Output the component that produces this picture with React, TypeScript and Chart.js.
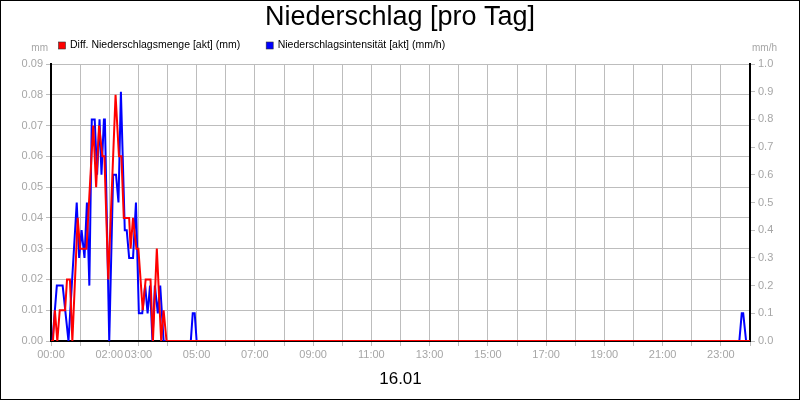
import { useEffect, useRef } from 'react';
import { Chart, registerables } from 'chart.js';
import type { Plugin } from 'chart.js';

Chart.register(...registerables);

const FONT = "'Liberation Sans', Arial, Helvetica, sans-serif";

const titleText = 'Niederschlag [pro Tag]';
const dayLabel = '16.01';
const leftUnit = 'mm';
const rightUnit = 'mm/h';
const amountLabel = 'Diff. Niederschlagsmenge [akt] (mm)';
const intensityLabel = 'Niederschlagsintensität [akt] (mm/h)';

// hours that get a label on the time axis
const xTickHours = [0, 2, 3, 5, 7, 9, 11, 13, 15, 17, 19, 21, 23];

// minutes after midnight / mm
const amountTimes = [0, 4, 8, 13, 18, 29, 33, 39, 44, 55, 60, 73, 87, 93, 99, 106, 110, 118, 133, 140, 145, 150, 161, 164, 169, 176, 180, 189, 195, 205, 210, 218, 227, 232, 238, 1440];
const amountValues = [0, 0, 0.01, 0, 0.01, 0.01, 0.02, 0.02, 0, 0.04, 0.03, 0.03, 0.07, 0.05, 0.07, 0.06, 0.06, 0.02, 0.08, 0.06, 0.06, 0.04, 0.04, 0.03, 0.04, 0.03, 0.03, 0.01, 0.02, 0.02, 0, 0.03, 0, 0.01, 0, 0];

// minutes after midnight / mm/h
const intensityTimes = [0, 3, 12, 24, 36, 53, 58, 63, 69, 74, 79, 84, 90, 95, 100, 104, 109, 111, 120, 128, 134, 139, 144, 152, 156, 161, 169, 175, 181, 188, 194, 199, 204, 209, 214, 220, 225, 232, 288, 292, 296, 300, 1418, 1423, 1426, 1432, 1440];
const intensityValues = [0, 0, 0.2, 0.2, 0, 0.5, 0.3, 0.4, 0.3, 0.5, 0.2, 0.8, 0.8, 0.6, 0.8, 0.6, 0.8, 0.8, 0, 0.6, 0.6, 0.5, 0.9, 0.4, 0.4, 0.3, 0.3, 0.5, 0.1, 0.1, 0.2, 0.1, 0.2, 0, 0.2, 0.1, 0.2, 0, 0, 0.1, 0.1, 0, 0, 0.1, 0.1, 0, 0];

const GRID = '#bdbdbd';
const TICK_TEXT = '#a6a6a6';

// white background, outer frame, legend row and unit labels
const framePlugin: Plugin<'line'> = {
  id: 'frame',
  beforeDraw(chart) {
    const { ctx, width, height } = chart;
    ctx.save();
    ctx.fillStyle = '#fff';
    ctx.fillRect(0, 0, width, height);
    ctx.restore();
  },
  afterDraw(chart) {
    const { ctx, width, height, chartArea } = chart;
    ctx.save();
    ctx.strokeStyle = '#000';
    ctx.lineWidth = 1;
    ctx.strokeRect(0.5, 0.5, width - 1, height - 1);

    // legend
    ctx.font = `10.5px ${FONT}`;
    ctx.textBaseline = 'middle';
    ctx.textAlign = 'left';
    let x = chartArea.left + 7.5;
    const y = chartArea.top - 18.5;
    chart.data.datasets.forEach((ds) => {
      const label = ds.label || '';
      ctx.fillStyle = ds.borderColor as string;
      ctx.fillRect(x, y - 3.5, 7, 7);
      ctx.strokeStyle = '#333';
      ctx.lineWidth = 0.6;
      ctx.strokeRect(x, y - 3.5, 7, 7);
      ctx.fillStyle = '#000';
      ctx.fillText(label, x + 11.5, y);
      x += 11.5 + ctx.measureText(label).width + 26;
    });

    // axis units
    ctx.fillStyle = TICK_TEXT;
    ctx.font = `10px ${FONT}`;
    ctx.textAlign = 'right';
    ctx.fillText(leftUnit, chartArea.left - 3, chartArea.top - 15.5);
    ctx.textAlign = 'left';
    ctx.fillText(rightUnit, chartArea.right + 2, chartArea.top - 15.5);
    ctx.restore();
  },
};

export default function App() {
  const chartRef = useRef<HTMLCanvasElement>(null);
  const chartInstance = useRef<Chart | null>(null);

  useEffect(() => {
    document.body.style.margin = '0';
    if (!chartRef.current) return;
    if (chartInstance.current) {
      chartInstance.current.destroy();
    }
    const ctx = chartRef.current.getContext('2d');
    if (!ctx) return;

    Chart.defaults.font.family = FONT;

    chartInstance.current = new Chart(ctx, {
      type: 'line',
      data: {
        datasets: [
          {
            label: amountLabel,
            data: amountTimes.map((t, i) => ({ x: t, y: amountValues[i] })),
            borderColor: '#ff0000',
            backgroundColor: '#ff0000',
            borderWidth: 2,
            pointRadius: 0,
            tension: 0,
            yAxisID: 'y',
          },
          {
            label: intensityLabel,
            data: intensityTimes.map((t, i) => ({ x: t, y: intensityValues[i] })),
            borderColor: '#0000ff',
            backgroundColor: '#0000ff',
            borderWidth: 2,
            pointRadius: 0,
            tension: 0,
            yAxisID: 'y1',
          },
        ],
      },
      options: {
        responsive: true,
        maintainAspectRatio: false,
        animation: false,
        layout: { padding: 0 },
        plugins: {
          legend: { display: false },
          tooltip: { enabled: false },
          title: {
            display: true,
            text: titleText,
            color: '#000',
            font: { size: 27, weight: 'normal' },
            padding: { top: 1, bottom: 30.6 },
          },
        },
        scales: {
          x: {
            type: 'linear',
            min: 0,
            max: 1440,
            afterFit: (scale) => {
              scale.height = 59;
            },
            border: { color: '#000', width: 2 },
            grid: { color: GRID, tickLength: 5 },
            ticks: {
              stepSize: 60,
              autoSkip: false,
              maxRotation: 0,
              padding: 2,
              color: TICK_TEXT,
              font: { size: 11 },
              callback: (value) => {
                const h = Number(value) / 60;
                if (!xTickHours.includes(h)) return '';
                return `${String(h).padStart(2, '0')}:00`;
              },
            },
            title: {
              display: true,
              text: dayLabel,
              color: '#000',
              font: { size: 17 },
              padding: { top: 0, bottom: 10 },
            },
          },
          y: {
            position: 'left',
            min: 0,
            max: 0.09,
            afterFit: (scale) => {
              scale.width = 51;
            },
            border: { color: '#000', width: 2 },
            grid: { color: GRID, tickLength: 5 },
            ticks: {
              stepSize: 0.01,
              padding: 3,
              color: TICK_TEXT,
              font: { size: 11 },
              callback: (value) => Number(value).toFixed(2),
            },
          },
          y1: {
            position: 'right',
            min: 0,
            max: 1,
            afterFit: (scale) => {
              scale.width = 50;
            },
            border: { color: '#000', width: 2 },
            grid: { color: GRID, tickLength: 5, drawOnChartArea: false },
            ticks: {
              stepSize: 0.1,
              padding: 3,
              color: TICK_TEXT,
              font: { size: 11 },
              callback: (value) => Number(value).toFixed(1),
            },
          },
        },
      },
      plugins: [framePlugin],
    });

    return () => {
      if (chartInstance.current) {
        chartInstance.current.destroy();
        chartInstance.current = null;
      }
    };
  }, []);

  return (
    <div style={{ position: 'relative', width: 800, height: 400 }}>
      <canvas ref={chartRef} />
    </div>
  );
}
